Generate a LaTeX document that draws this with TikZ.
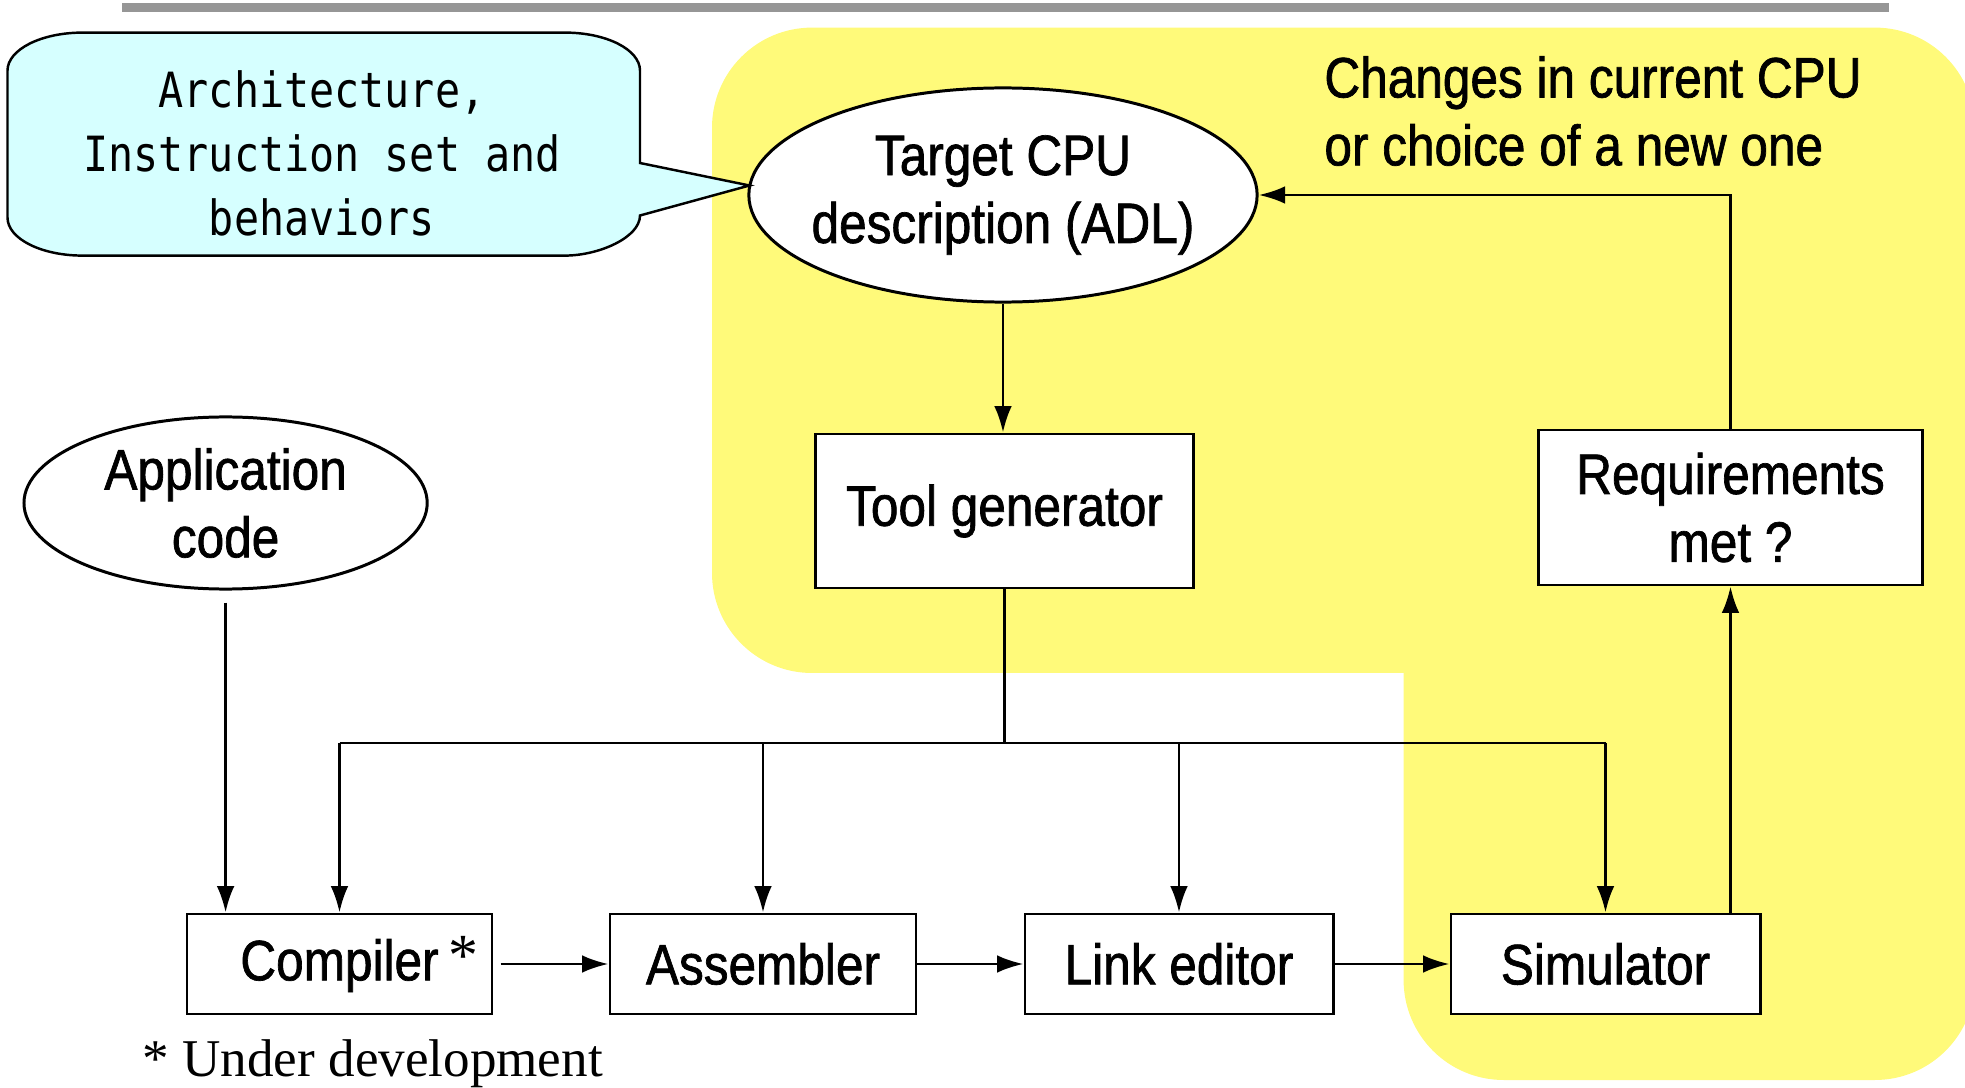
\documentclass[tikz,border=0pt]{standalone}
\usepackage{fontspec}
\setmainfont{Liberation Sans}
\newfontfamily\arialf[FakeStretch=0.87,FakeBold=1.2]{Liberation Sans}
\newfontfamily\gothicf[FakeStretch=0.86]{DejaVu Sans Mono}
\newfontfamily\timesf{Liberation Serif}
\usetikzlibrary{shapes.geometric,arrows.meta}
\definecolor{yfill}{RGB}{255,250,122}
\definecolor{cfill}{RGB}{214,255,255}
\definecolor{barg}{RGB}{150,150,150}
\begin{document}
\begin{tikzpicture}[x=0.01cm,y=-0.01cm,
  lbl/.style={font=\arialf\fontsize{16.2}{19.3}\selectfont, align=center},
  boxn/.style={lbl, draw, line width=0.8pt, fill=white, inner sep=0pt},
  blob/.style={lbl, ellipse, draw, line width=0.85pt, fill=white, inner sep=0pt},
  arr/.style={line width=0.8pt, -{Latex[length=7.5pt,width=5pt]}},
  conn/.style={line width=0.8pt}]
\useasboundingbox (0,0) rectangle (1965,1088);
% background
\fill[barg] (122,3) rectangle (1889,12);
\fill[yfill, rounded corners=1cm] (1403.6,673) -- (712,673) -- (712,27.6) -- (1975,27.6) -- (1975,1080) -- (1403.6,1080) -- (1403.6,673);
% nodes
\node[blob, inner xsep=-0.14cm, minimum width=5.08cm, minimum height=2.14cm] (tcpu) at (1003,195) {Target CPU\\description (ADL)};
\node[blob, minimum width=4.03cm, minimum height=1.72cm] (app) at (225.6,503) {Application\\code};
\node[boxn, minimum width=3.77cm, minimum height=1.54cm] (tool) at (1004.5,511) {Tool generator};
\node[boxn, minimum width=3.83cm, minimum height=1.55cm] (req) at (1730.5,507.5) {Requirements\\met ?};
\node[boxn, minimum width=3.05cm, minimum height=1cm] (comp) at (339.5,964) {Compiler\rlap{\,{\timesf\fontsize{17}{17}\selectfont\raisebox{1.5pt}{*}}}};
\node[boxn, minimum width=3.06cm, minimum height=1cm] (asm) at (763,964) {Assembler};
\node[boxn, minimum width=3.08cm, minimum height=1cm] (link) at (1179,964) {Link editor};
\node[boxn, minimum width=3.09cm, minimum height=1cm] (sim) at (1605.5,964) {Simulator};
\node[lbl, align=left, anchor=west] (chg) at (1312,111) {Changes in current CPU\\or choice of a new one};
\node[font=\timesf\fontsize{15.1}{18}\selectfont, anchor=base west, inner sep=0pt] (note) at (142,1076) {* Under development};
% callout
\coordinate (tip) at (749.5,185.5);
\filldraw[fill=cfill, line width=0.7pt] (640,163) -- (tip) -- (640,215.5)
  .. controls (640,237.6) and (598.6,255.6) .. (565,255.6)
  -- (82.5,255.6)
  .. controls (41.1,255.6) and (7.5,238.6) .. (7.5,217.6)
  -- (7.5,70.6)
  .. controls (7.5,49.6) and (41.1,32.6) .. (82.5,32.6)
  -- (565,32.6)
  .. controls (606.4,32.6) and (640,49.6) .. (640,70.6)
  -- cycle;
\node[font=\gothicf\fontsize{13.8}{18.2}\selectfont, align=center] (callout) at (322,153) {Architecture,\\Instruction set and\\behaviors};
% connectors
\coordinate (bus) at (1003,743);
\draw[arr] (tcpu.south) -- (tcpu.south |- tool.north);
\draw[conn] (tool.south) -- (tool.south |- bus);
\draw[conn] (comp.north |- bus) -- (sim.north |- bus);
\draw[arr] (comp.north |- bus) -- (comp.north);
\draw[arr] (asm.north |- bus) -- (asm.north);
\draw[arr] (link.north |- bus) -- (link.north);
\draw[arr] (sim.north |- bus) -- (sim.north);
\draw[arr] ([yshift=-0.12cm]app.south) -- (app.south |- comp.north);
\draw[arr] ([xshift=0.07cm]comp.east) -- (asm.west);
\draw[arr] (asm.east) -- (link.west);
\draw[arr] (link.east) -- (sim.west);
\draw[arr] (sim.north -| req.south) -- (req.south);
\draw[arr] (req.north) |- (tcpu.east);
\end{tikzpicture}
\end{document}
